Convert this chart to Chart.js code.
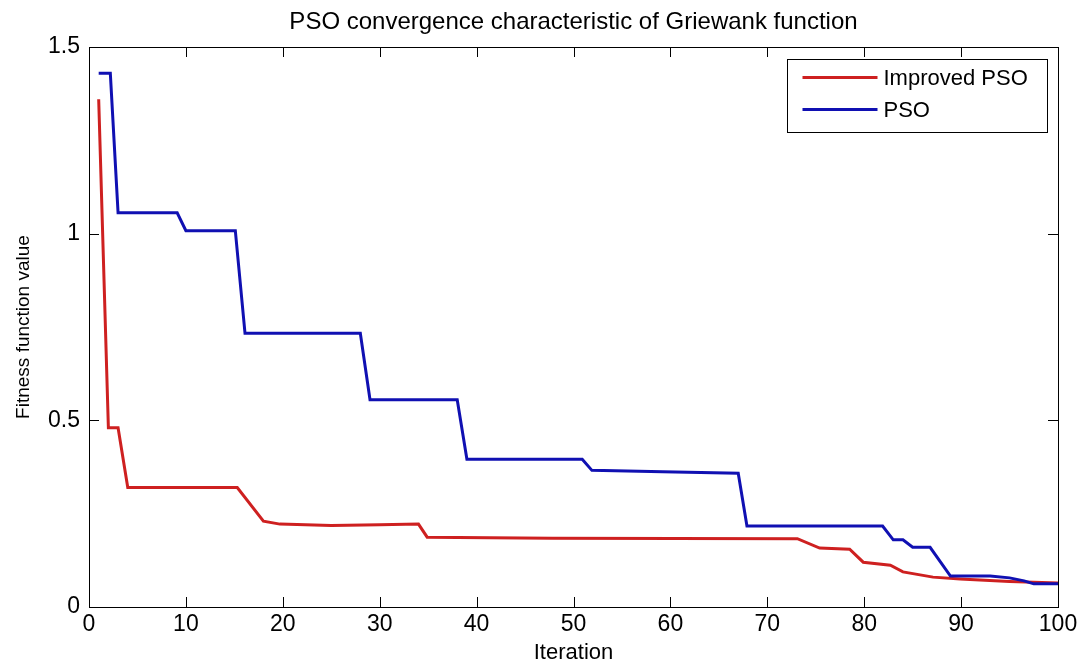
<!DOCTYPE html>
<html>
<head>
<meta charset="utf-8">
<script src="https://cdn.jsdelivr.net/npm/chart.js@4"></script>
<style>
  html, body { margin: 0; padding: 0; background: #fff; }
  canvas { display: block; }
</style>
</head>
<body>
<canvas id="chartPso" width="1082" height="670"></canvas>
<script>
// ─── Datos ───────────────────────────────────────────────────────────────────
const titleText = 'PSO convergence characteristic of Griewank function';
const xTitle = 'Iteration';
const yTitle = 'Fitness function value';

const improvedIter = [1, 2, 3, 4, 15.3, 18, 19.7, 25, 30, 34, 34.9, 47.8, 73.1, 75.4, 78.5, 79.9, 82.7, 84, 87.1, 89.9, 95, 100];
const improvedVal  = [1.36, 0.48, 0.48, 0.32, 0.32, 0.23, 0.222, 0.218, 0.22, 0.222, 0.187, 0.184, 0.183, 0.158, 0.155, 0.12, 0.112, 0.094, 0.08, 0.075, 0.068, 0.064];

const psoIter = [1, 2.2, 3, 9.1, 10, 15.1, 16.1, 28, 29, 38, 39, 50.9, 51.9, 59.2, 67, 67.9, 81.9, 83, 84, 85, 86.8, 88.9, 93, 95, 96.5, 97.5, 100];
const psoVal  = [1.43, 1.43, 1.056, 1.056, 1.008, 1.008, 0.733, 0.733, 0.555, 0.555, 0.396, 0.396, 0.366, 0.362, 0.358, 0.217, 0.217, 0.18, 0.18, 0.16, 0.16, 0.083, 0.083, 0.078, 0.07, 0.062, 0.062];

const xTicks = [0, 10, 20, 30, 40, 50, 60, 70, 80, 90, 100];
const yTicks = [0, 0.5, 1, 1.5];

const RED = 'rgb(206,32,32)';
const BLUE = 'rgb(16,16,178)';
const FONT = '"Liberation Sans", Arial, sans-serif';

const pts = (xs, ys) => xs.map((x, i) => ({ x, y: ys[i] }));

// ─── Caja, marcas hacia dentro, título y leyenda estilo MATLAB ───────────────
const matlabFrame = {
  id: 'matlabFrame',
  afterDatasetsDraw(chart) {
    const { ctx, chartArea: a, scales: { x, y } } = chart;
    const tl = 10;
    ctx.save();
    ctx.strokeStyle = '#000';
    ctx.lineWidth = 1;
    ctx.beginPath();
    xTicks.forEach(v => {
      const px = Math.round(x.getPixelForValue(v)) + 0.5;
      ctx.moveTo(px, a.bottom); ctx.lineTo(px, a.bottom - tl);
      ctx.moveTo(px, a.top); ctx.lineTo(px, a.top + tl);
    });
    yTicks.forEach(v => {
      const py = Math.round(y.getPixelForValue(v)) + 0.5;
      ctx.moveTo(a.left, py); ctx.lineTo(a.left + tl, py);
      ctx.moveTo(a.right, py); ctx.lineTo(a.right - tl, py);
    });
    ctx.stroke();
    ctx.strokeRect(Math.round(a.left) + 0.5, Math.round(a.top) + 0.5,
                   Math.round(a.right - a.left), Math.round(a.bottom - a.top));

    // título centrado sobre el área de trazado
    ctx.fillStyle = '#000';
    ctx.font = '24px ' + FONT;
    ctx.textAlign = 'center';
    ctx.textBaseline = 'middle';
    ctx.fillText(titleText, (a.left + a.right) / 2, 22);

    // leyenda
    const bw = 260, bh = 73;
    const bx = Math.round(a.right - 11 - bw) + 0.5, by = Math.round(a.top + 12) + 0.5;
    ctx.fillStyle = '#fff';
    ctx.fillRect(bx, by, bw, bh);
    ctx.strokeRect(bx, by, bw, bh);
    ctx.font = '22px ' + FONT;
    ctx.textAlign = 'left';
    const rows = [chart.data.datasets[0], chart.data.datasets[1]];
    rows.forEach((ds, i) => {
      const ly = by + 18 + i * 32;
      ctx.strokeStyle = ds.borderColor;
      ctx.lineWidth = 3;
      ctx.beginPath();
      ctx.moveTo(bx + 15, ly); ctx.lineTo(bx + 90, ly);
      ctx.stroke();
      ctx.fillStyle = '#000';
      ctx.fillText(ds.label, bx + 96, ly + 1);
    });
    ctx.restore();
  },
};

new Chart(document.getElementById('chartPso').getContext('2d'), {
  type: 'line',
  data: {
    datasets: [
      { label: 'Improved PSO', data: pts(improvedIter, improvedVal), borderColor: RED, borderWidth: 3, order: 2 },
      { label: 'PSO', data: pts(psoIter, psoVal), borderColor: BLUE, borderWidth: 3, order: 1 },
    ],
  },
  options: {
    responsive: false,
    animation: false,
    parsing: false,
    elements: { point: { radius: 0 }, line: { tension: 0, borderCapStyle: 'butt', borderJoinStyle: 'miter' } },
    layout: { padding: { top: 47, right: 24, left: 0, bottom: 0 } },
    plugins: { legend: { display: false }, tooltip: { enabled: false }, title: { display: false } },
    scales: {
      x: {
        type: 'linear', min: 0, max: 100,
        afterBuildTicks: s => { s.ticks = xTicks.map(value => ({ value })); },
        afterFit: s => { s.height = 63; },
        grid: { display: false, drawTicks: false },
        border: { display: false },
        ticks: { color: '#000', padding: 4, font: { family: FONT, size: 23 } },
        title: { display: true, text: xTitle, color: '#000', padding: { top: 0, bottom: 4 }, font: { family: FONT, size: 22 } },
      },
      y: {
        type: 'linear', min: 0, max: 1.5,
        afterBuildTicks: s => { s.ticks = yTicks.map(value => ({ value })); },
        afterFit: s => { s.width = 89; },
        grid: { display: false, drawTicks: false },
        border: { display: false },
        ticks: { color: '#000', padding: 9, font: { family: FONT, size: 23 }, callback: v => String(v) },
        title: { display: true, text: yTitle, color: '#000', padding: { top: 12, bottom: 0 }, font: { family: FONT, size: 19 } },
      },
    },
  },
  plugins: [matlabFrame],
});
</script>
</body>
</html>
